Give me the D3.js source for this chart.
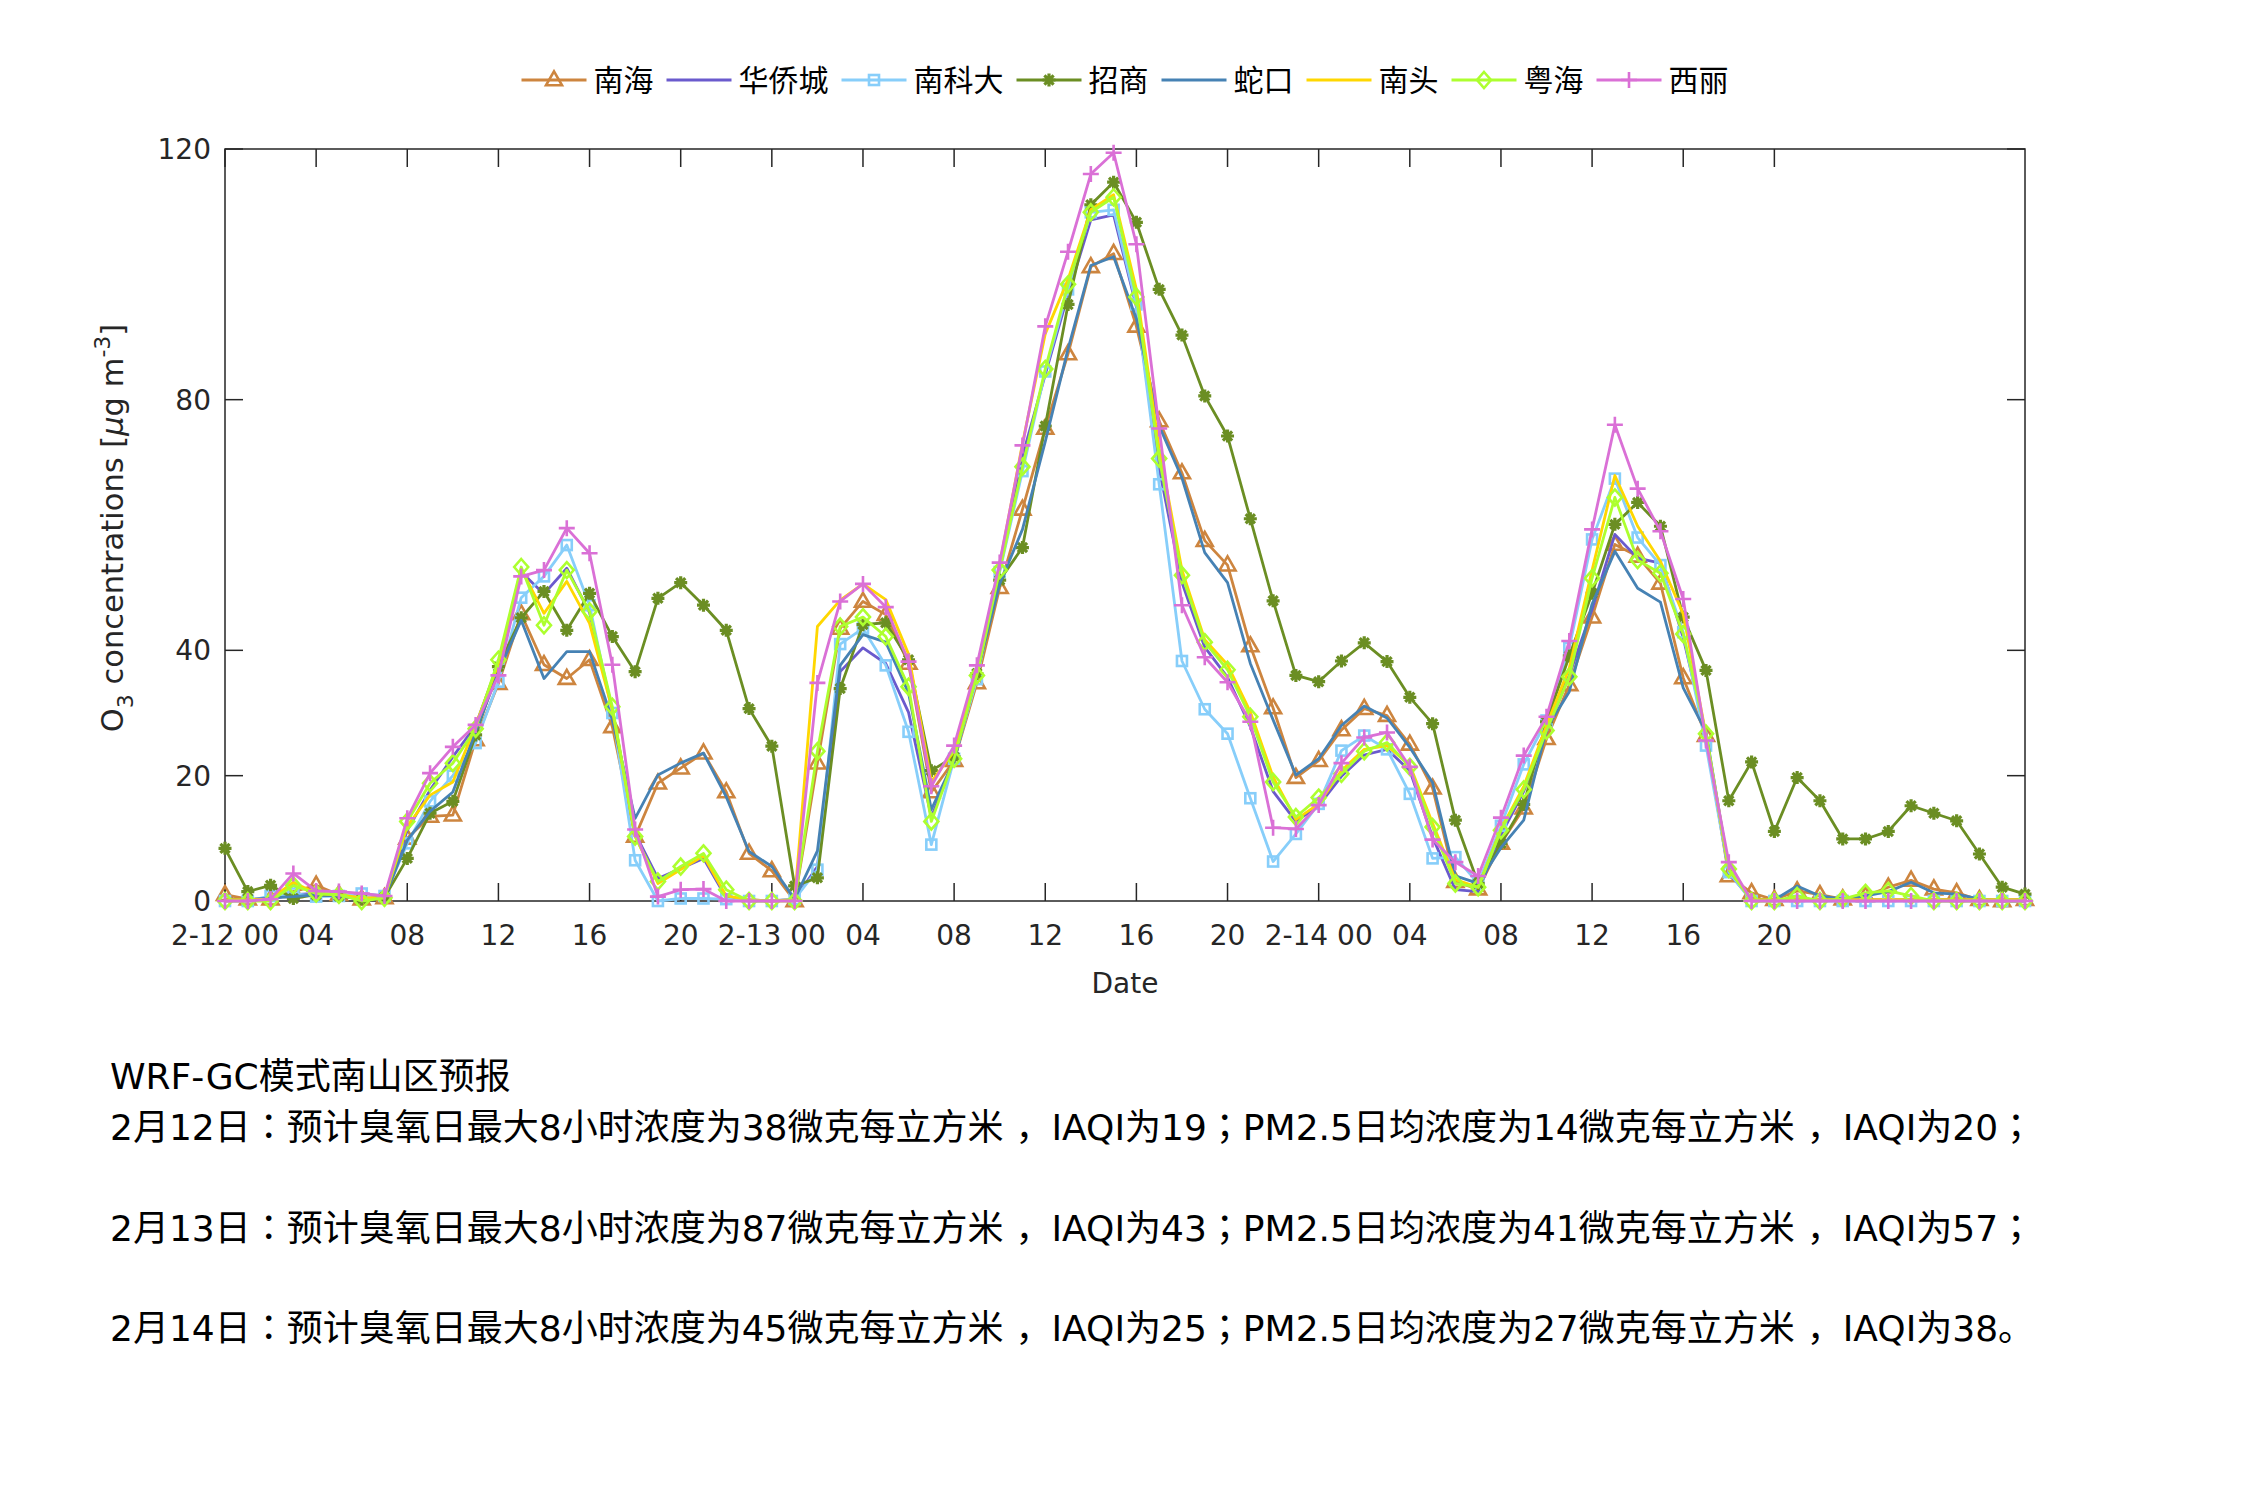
<!DOCTYPE html>
<html><head><meta charset="utf-8">
<script src="https://cdn.jsdelivr.net/npm/d3@7"></script>
<style>body{margin:0;background:#fff}svg{display:block}</style>
</head><body>
<svg id="c" width="2250" height="1500"></svg>
<script>
// ---------- DATA ----------
const hours = [0,1,2,3,4,5,6,7,8,9,10,11,12,13,14,15,16,17,18,19,20,21,22,23,24,25,26,27,28,29,30,31,32,33,34,35,36,37,38,39,40,41,42,43,44,45,46,47,48,49,50,51,52,53,54,55,56,57,58,59,60,61,62,63,64,65,66,67,68,69,70,71,72,73,74,75,76,77,78,79];
const seriesNames = ["南海","华侨城","南科大","招商","蛇口","南头","粤海","西丽"];
const nanhai = [1.0,0.3,0.3,1.5,2.5,1.0,0.3,0.5,10.0,13.5,13.7,25.7,34.7,45.8,37.7,35.5,38.5,27.8,10.3,18.8,21.2,23.6,17.4,7.6,4.8,0,22,43.5,47.8,45.7,37.9,17.4,22.4,34.8,50,62.5,75.4,87.3,101.2,103.3,91.7,76.6,68.3,57.5,53.6,40.7,30.8,19.7,22.4,27.3,30.7,29.6,25,18,3.1,1.9,9.2,14.8,25.9,34.5,45.3,56.9,55,50.7,35.6,26.4,4,1.3,0.2,1.6,1.0,0.3,0.8,2.2,3.3,1.9,1.3,0.2,0,0.2];
const huaqiaocheng = [0.3,0.2,0.3,1.0,1.2,1.0,0.5,0.5,11.3,17.7,23,28,38,52.5,49,53.1,46,30.5,10.8,3.6,5.2,6.8,0.5,0.2,0,0.3,5.5,36.6,40.4,37.9,30.1,13.4,22.4,36,53,71,84,96.8,108.7,109.5,94.8,69,50.8,40.5,35.7,27.8,17.5,12.7,15.2,19.9,23.3,24.2,20.8,10.2,1.8,1.5,10.5,17.5,27,36,46.5,58.5,54.7,53.9,42,26.5,4.5,0.2,0.2,0.2,0.2,0.2,0.2,0.2,0.2,0.2,0.2,0.2,0.2,0.2];
const nankeda = [0,0,0.8,1.2,0.7,0.8,1.2,0.8,9.2,15.9,20,25.2,35,48.4,51.8,56.8,47.2,30,6.5,0,0.4,0.4,0.3,0,0,0.3,5,41,43.5,37.6,27,9,22.7,35.4,52.5,68.6,84.5,97.6,109.9,110.3,95.2,66.5,38.3,30.6,26.7,16.4,6.3,10.7,15.5,24,26.4,24.2,17.1,6.8,7,2.8,12,21.8,28.8,40.4,57.7,67.4,58,53.6,42.9,24.8,4.6,0,0,0,0,0,0,0,0,0,0,0,0,0];
const zhaoshang = [8.4,1.5,2.5,0.4,1.0,0.8,0.3,0.6,6.8,14,15.9,26.5,37.4,45.2,49.4,43.2,49.1,42.2,36.6,48.3,50.8,47.2,43.2,30.7,24.7,2.4,3.7,33.9,44.1,44.4,38.5,20.8,23,36.3,51.2,56.4,75.8,95.2,111.1,114.7,108.3,97.6,90.3,80.6,74.2,61,47.9,36,35,38.3,41.2,38.2,32.5,28.3,12.9,2.8,9.2,15.4,28.6,39.1,49.1,60.1,63.6,59.8,45.3,36.8,16,22.2,11.1,19.7,16,9.9,9.9,11.1,15.2,14,12.8,7.5,2.2,1.1];
const shekou = [0.3,0.2,0.5,0.7,1.0,0.8,0.3,0.5,9.7,14.3,17.4,27,36.6,44.8,35.5,39.8,39.8,28.9,13.2,20.1,22,23.6,16.6,7.9,5.5,0.3,8,37.6,42.5,41.3,33.2,14.6,22.4,36.3,50.6,59.3,73.3,88.1,101.4,102.8,92.9,75.8,67.5,55.6,50.8,37.9,28.9,20.1,22.7,28,31.1,29.2,24.5,18.9,4,2.8,8.5,12.9,27.5,33.4,47.4,55.8,49.9,47.7,34,27,5,0.3,0.2,2.4,0.8,0.3,0.8,1.5,3,1.3,1.1,0.3,0,0];
const nantou = [0.2,0.2,0.3,3,1.2,1.0,0.5,0.5,11.9,16.9,19,28,37.9,53,45.9,51,44.3,30.5,10.3,2.8,5,7.2,0.8,0.2,0,0.2,43.8,48,50.6,48.1,39.4,19,23.9,36.3,53.7,73,90.5,99.2,110.3,112.7,97.6,72.2,52.8,41.7,37.7,30.2,19.8,13,15.5,20.8,24.2,24.8,21.7,12.4,3.4,2.2,11.5,18.3,28,37.2,52.8,67.9,59.8,54.2,45.8,26.5,5,0.2,0.2,0.2,0.2,0.2,0.2,0.2,0.2,0.2,0.2,0.2,0.2,0.2];
const yuehai = [0,0,0,2.5,1.2,1.0,0,0.5,12.7,18.8,22,27.5,38.5,53.3,44,52.8,46.2,31,10.3,3.1,5.5,7.6,1.8,0,0,0,23.9,43.8,45.3,42.2,34.2,12.7,22.7,36,52.8,69.3,84.9,98.4,109.9,112.3,96.4,70.6,52,41.3,36.9,29.4,19,13.4,16.5,20.3,23.9,25.3,21.4,11.8,2.8,2.2,11.3,17.8,27.2,35.8,51.5,64.4,54.4,52.3,42.6,26.7,5.1,0,0,0.8,0,0.3,1.3,1.6,0.8,0,0,0,0,0];
const xili = [0,0,0.3,4.4,1.6,1.5,1.2,0.8,13.2,20.4,24.6,28.1,36,51.8,52.8,59.5,55.5,37.7,11.4,0.7,1.8,1.9,0,0,0,0,34.8,47.8,50.6,46.9,38.2,18.3,24.8,37.6,54,72.7,91.7,103.6,116,119.4,104.8,75.4,47.2,38.9,34.9,28.6,11.7,11.5,15.3,22,26.1,26.9,21.4,9.8,6.2,4,13.3,23.2,29.4,41.5,59.3,76,65.8,59,48.2,25.6,6.2,0,0,0,0,0,0,0,0,0,0,0,0,0];
const xTickHours = [0,4,8,12,16,20,24,28,32,36,40,44,48,52,56,60,64,68];
const xTickLabels = ["2-12 00","04","08","12","16","20","2-13 00","04","08","12","16","20","2-14 00","04","08","12","16","20"];
const yTicks = [0,20,40,80,120];
const textLines = [
  "WRF-GC模式南山区预报",
  "2月12日：预计臭氧日最大8小时浓度为38微克每立方米，IAQI为19；PM2.5日均浓度为14微克每立方米，IAQI为20；",
  "2月13日：预计臭氧日最大8小时浓度为87微克每立方米，IAQI为43；PM2.5日均浓度为41微克每立方米，IAQI为57；",
  "2月14日：预计臭氧日最大8小时浓度为45微克每立方米，IAQI为25；PM2.5日均浓度为27微克每立方米，IAQI为38。"
];

// ---------- STYLE ----------
const seriesValues = [nanhai,huaqiaocheng,nankeda,zhaoshang,shekou,nantou,yuehai,xili];
const colors = ["#CD853F","#6A5ACD","#87CEFA","#6B8E23","#4682B4","#FFD700","#ADFF2F","#DA70D6"];
const markers = ["tri","none","square","star","none","none","diamond","plus"];
const axisColor = "#262626";
const tickFont = "'DejaVu Sans', sans-serif";

const svg = d3.select("#c");
const L=225,R=2025,T=149,B=901;
const x = d3.scaleLinear().domain([0,79]).range([L,R]);
const y = d3.scaleLinear().domain([0,120]).range([B,T]);

function drawMarker(g, type, cx, cy, color){
  const sw = 2.6;
  if(type==="tri"){
    const s=16, h=14;
    g.append("path").attr("d",`M${cx},${cy-h*0.62}L${cx+s/2},${cy+h*0.38}L${cx-s/2},${cy+h*0.38}Z`)
      .attr("fill","none").attr("stroke",color).attr("stroke-width",sw);
  } else if(type==="square"){
    const s=10;
    g.append("rect").attr("x",cx-s/2).attr("y",cy-s/2).attr("width",s).attr("height",s)
      .attr("fill","none").attr("stroke",color).attr("stroke-width",sw);
  } else if(type==="diamond"){
    const w=7,h=8;
    g.append("path").attr("d",`M${cx},${cy-h}L${cx+w},${cy}L${cx},${cy+h}L${cx-w},${cy}Z`)
      .attr("fill","none").attr("stroke",color).attr("stroke-width",sw);
  } else if(type==="plus"){
    const s=8;
    g.append("path").attr("d",`M${cx-s},${cy}H${cx+s}M${cx},${cy-s}V${cy+s}`)
      .attr("fill","none").attr("stroke",color).attr("stroke-width",sw);
  } else if(type==="star"){
    const s=6.5, d=4.6;
    g.append("path").attr("d",`M${cx-s},${cy}H${cx+s}M${cx},${cy-s}V${cy+s}M${cx-d},${cy-d}L${cx+d},${cy+d}M${cx-d},${cy+d}L${cx+d},${cy-d}`)
      .attr("fill","none").attr("stroke",color).attr("stroke-width",3.2);
  }
}

// axes box and ticks
const ax = svg.append("g");
ax.append("rect").attr("x",L).attr("y",T).attr("width",R-L).attr("height",B-T)
  .attr("fill","none").attr("stroke",axisColor).attr("stroke-width",1.5);
xTickHours.forEach((h,i)=>{
  const xx = x(h);
  ax.append("line").attr("x1",xx).attr("x2",xx).attr("y1",B).attr("y2",B-18).attr("stroke",axisColor).attr("stroke-width",1.5);
  ax.append("line").attr("x1",xx).attr("x2",xx).attr("y1",T).attr("y2",T+18).attr("stroke",axisColor).attr("stroke-width",1.5);
  ax.append("text").attr("x",xx).attr("y",945).attr("text-anchor","middle")
    .attr("font-family",tickFont).attr("font-size",28).attr("fill",axisColor).text(xTickLabels[i]);
});
yTicks.forEach(v=>{
  const yy = y(v);
  ax.append("line").attr("x1",L).attr("x2",L+18).attr("y1",yy).attr("y2",yy).attr("stroke",axisColor).attr("stroke-width",1.5);
  ax.append("line").attr("x1",R).attr("x2",R-18).attr("y1",yy).attr("y2",yy).attr("stroke",axisColor).attr("stroke-width",1.5);
  ax.append("text").attr("x",211).attr("y",yy+10).attr("text-anchor","end")
    .attr("font-family",tickFont).attr("font-size",28).attr("fill",axisColor).text(v);
});
// axis labels
svg.append("text").attr("x",1125).attr("y",993).attr("text-anchor","middle")
  .attr("font-family",tickFont).attr("font-size",28).attr("fill",axisColor).text("Date");
const yl = svg.append("text").attr("transform","translate(123,528) rotate(-90)").attr("text-anchor","middle")
  .attr("font-family",tickFont).attr("font-size",30.5).attr("fill",axisColor);
yl.append("tspan").text("O");
yl.append("tspan").attr("dy",10).attr("font-size",22).text("3");
yl.append("tspan").attr("dy",-10).text(" concentrations [");
yl.append("tspan").attr("font-style","italic").text("μ");
yl.append("tspan").text("g m");
yl.append("tspan").attr("dy",-13).attr("font-size",22).text("-3");
yl.append("tspan").attr("dy",13).text("]");

// series
const line = d3.line().x((v,i)=>x(hours[i])).y(v=>y(v));
seriesValues.forEach((vals,k)=>{
  const g = svg.append("g");
  g.append("path").datum(vals).attr("d",line).attr("fill","none")
    .attr("stroke",colors[k]).attr("stroke-width",2.8).attr("stroke-linejoin","round");
  if(markers[k]!=="none"){
    vals.forEach((v,i)=>drawMarker(g,markers[k],x(hours[i]),y(v),colors[k]));
  }
});

// legend
const lg = svg.append("g");
let cur = 0;
seriesNames.forEach((n,k)=>{
  const it = lg.append("g");
  it.append("line").attr("x1",cur).attr("x2",cur+65).attr("y1",80).attr("y2",80)
    .attr("stroke",colors[k]).attr("stroke-width",2.8);
  if(markers[k]!=="none") drawMarker(it,markers[k],cur+32.5,80,colors[k]);
  const t = it.append("text").attr("x",cur+72).attr("y",91)
    .attr("font-family","'Noto Sans CJK SC', sans-serif").attr("font-size",30).attr("fill","#000").text(n);
  const w = t.node().getComputedTextLength();
  cur += 72 + w + 13;
});
const totalW = cur - 13;
lg.attr("transform",`translate(${(L+R)/2 - totalW/2},0)`);

// bottom text (full-width ：，； drawn centred on the baseline, as in the reference)
const baselines = [1089,1140,1241,1341];
textLines.forEach((s,i)=>{
  const t = svg.append("text").attr("x",110).attr("y",baselines[i])
    .attr("font-family","'DejaVu Sans','Noto Sans CJK SC', sans-serif").attr("font-size",36).attr("fill","#000");
  s.split(/([：，；])/).forEach(part=>{
    if(!part) return;
    const ts = t.append("tspan").text(part);
    if(/^[：，；]$/.test(part)){
      ts.attr("font-family","'Noto Sans CJK KR', sans-serif");
      if(part==="，") ts.attr("dx", 12);
    }
  });
});
</script>
</body></html>
